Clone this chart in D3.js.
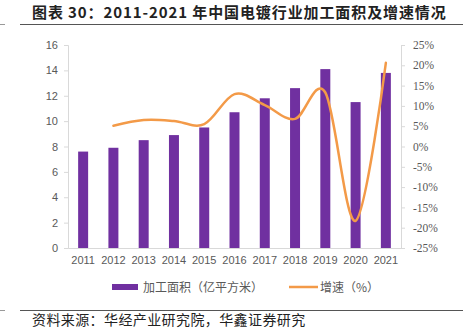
<!DOCTYPE html>
<html>
<head>
<meta charset="utf-8">
<script src="https://cdn.jsdelivr.net/npm/d3@7"></script>
<style>
  body { margin: 0; background: #fff; }
  svg { display: block; }
</style>
</head>
<body>
<div id="chart"></div>
<script>
// data
var years = ["2011", "2012", "2013", "2014", "2015", "2016", "2017", "2018", "2019", "2020", "2021"];
var area = [7.6, 7.9, 8.5, 8.9, 9.5, 10.7, 11.8, 12.6, 14.1, 11.5, 13.8];
var growthYears = ["2012", "2013", "2014", "2015", "2016", "2017", "2018", "2019", "2020", "2021"];
var growth = [5.1, 6.5, 6.3, 5.5, 12.9, 10.2, 6.8, 13.3, -18.3, 20.6];
var leftTicks = [0, 2, 4, 6, 8, 10, 12, 14, 16];
var rightTicks = [-25, -20, -15, -10, -5, 0, 5, 10, 15, 20, 25];

var W = 469, H = 336;
var purple = "#7030A0", orange = "#F39A48", grey = "#595959", axisGrey = "#D9D9D9";
var cjk = "'Noto Sans CJK SC', 'Noto Sans', sans-serif";

const svg = d3.select("#chart").append("svg")
  .attr("width", W).attr("height", H);

// title + rules
svg.append("text")
  .attr("x", 32).attr("y", 18)
  .style("font-family", cjk).style("font-weight", "bold").style("font-size", "15px")
  .style("letter-spacing", "0.9px")
  .attr("fill", "#222")
  .text("图表 30：2011-2021 年中国电镀行业加工面积及增速情况");
[24.5, 310.5].forEach(function (yy) {
  svg.append("line").attr("x1", 20).attr("x2", 463).attr("y1", yy).attr("y2", yy)
    .attr("stroke", "#555").attr("stroke-width", 1);
  svg.append("line").attr("x1", 0).attr("x2", 5).attr("y1", yy).attr("y2", yy)
    .attr("stroke", "#999").attr("stroke-width", 1);
});

// scales
const x = d3.scaleBand().domain(years).range([68, 401]).paddingInner(0.67).paddingOuter(0.335);
const xc = d => x(d) + x.bandwidth() / 2;
const yL = d3.scaleLinear().domain([0, 16]).range([248, 45]);
const yR = d3.scaleLinear().domain([-25, 25]).range([248, 45]);

// left axis
const gl = svg.append("g").attr("transform", "translate(68,0)")
  .call(d3.axisLeft(yL).tickValues(leftTicks).tickSize(4).tickPadding(6));
gl.select(".domain").attr("stroke", axisGrey);
gl.selectAll(".tick line").attr("stroke", axisGrey);
gl.selectAll("text").attr("fill", grey).style("font-size", "11px")
  .style("font-family", "'Liberation Sans', Arial, sans-serif");

// right axis
const gr = svg.append("g").attr("transform", "translate(401,0)")
  .call(d3.axisRight(yR).tickValues(rightTicks).tickSize(4).tickPadding(8).tickFormat(d => d + "%"));
gr.select(".domain").attr("stroke", axisGrey);
gr.selectAll(".tick line").attr("stroke", axisGrey);
gr.selectAll("text").attr("fill", grey).style("font-size", "11.5px")
  .style("font-family", "'Liberation Serif', 'Times New Roman', serif");

// bottom axis
const gb = svg.append("g").attr("transform", "translate(0,248)")
  .call(d3.axisBottom(x).tickSize(0).tickPadding(8));
gb.select(".domain").attr("stroke", axisGrey);
gb.selectAll("text").attr("fill", grey).style("font-size", "11px")
  .style("font-family", "'Liberation Sans', Arial, sans-serif");

// bars
svg.append("g").selectAll("rect")
  .data(area)
  .join("rect")
  .attr("x", (d, i) => x(years[i]))
  .attr("y", d => yL(d))
  .attr("width", x.bandwidth())
  .attr("height", d => yL(0) - yL(d))
  .attr("fill", purple);

// growth line
svg.append("path")
  .datum(growth)
  .attr("fill", "none")
  .attr("stroke", orange)
  .attr("stroke-width", 2.5)
  .attr("stroke-linecap", "round")
  .attr("d", d3.line()
    .x((d, i) => xc(growthYears[i]))
    .y(d => yR(d))
    .curve(d3.curveCardinal.tension(0)));

// legend
const lg = svg.append("g").style("font-family", cjk).style("font-size", "12px");
lg.append("rect").attr("x", 112).attr("y", 284).attr("width", 26).attr("height", 6).attr("fill", purple);
lg.append("text").attr("x", 143).attr("y", 291.5).attr("fill", grey).text("加工面积（亿平方米）");
lg.append("line").attr("x1", 289).attr("x2", 318).attr("y1", 287).attr("y2", 287)
  .attr("stroke", orange).attr("stroke-width", 2.5);
lg.append("text").attr("x", 320).attr("y", 291.5).attr("fill", grey).text("增速（%）");

// source
svg.append("text")
  .attr("x", 32).attr("y", 325)
  .style("font-family", cjk).style("font-size", "14px")
  .style("letter-spacing", "0.4px")
  .attr("fill", "#222")
  .text("资料来源：华经产业研究院，华鑫证券研究");
</script>
</body>
</html>
